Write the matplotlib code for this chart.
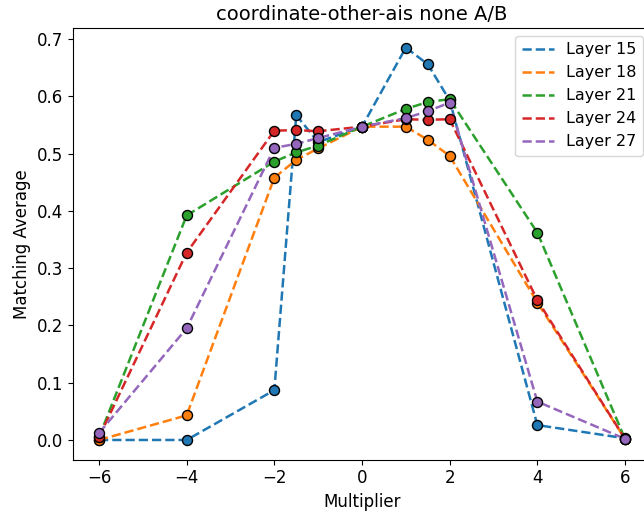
import numpy as np
import matplotlib.pyplot as plt

multipliers = [-6, -4, -2, -1.5, -1, 0, 1, 1.5, 2, 4, 6]
layers = [15, 18, 21, 24, 27]

layer_15 = [0.0, 0.0, 0.087, 0.567, 0.520, 0.547, 0.685, 0.656, 0.593, 0.026, 0.003]
layer_18 = [0.0, 0.043, 0.458, 0.489, 0.509, 0.547, 0.547, 0.524, 0.496, 0.240, 0.002]
layer_21 = [0.005, 0.392, 0.486, 0.502, 0.514, 0.547, 0.578, 0.590, 0.595, 0.362, 0.002]
layer_24 = [0.005, 0.327, 0.540, 0.541, 0.539, 0.547, 0.560, 0.559, 0.560, 0.244, 0.002]
layer_27 = [0.012, 0.195, 0.510, 0.517, 0.527, 0.547, 0.562, 0.574, 0.589, 0.067, 0.002]

values = [layer_15, layer_18, layer_21, layer_24, layer_27]

plt.rcParams['font.size'] = 12

fig = plt.figure(figsize=(6.44, 5.13), dpi=100)
# the axes run past the right edge of the picture, as in the reference
ax = fig.add_axes([72.7 / 644, 53.4 / 513, 578.6 / 644, 431.6 / 513])
for layer, vals in zip(layers, values):
    line, = ax.plot(multipliers, vals, linestyle='--', linewidth=1.8,
                    label=f'Layer {layer}')
    ax.scatter(multipliers, vals, color=line.get_color(), edgecolors='black',
               s=52, zorder=3)

ax.set_xlabel('Multiplier')
ax.set_ylabel('Matching Average')
ax.set_title('coordinate-other-ais none A/B', fontsize=14)
ax.legend(loc='upper right', fontsize=11.5)
plt.savefig('out.png')
